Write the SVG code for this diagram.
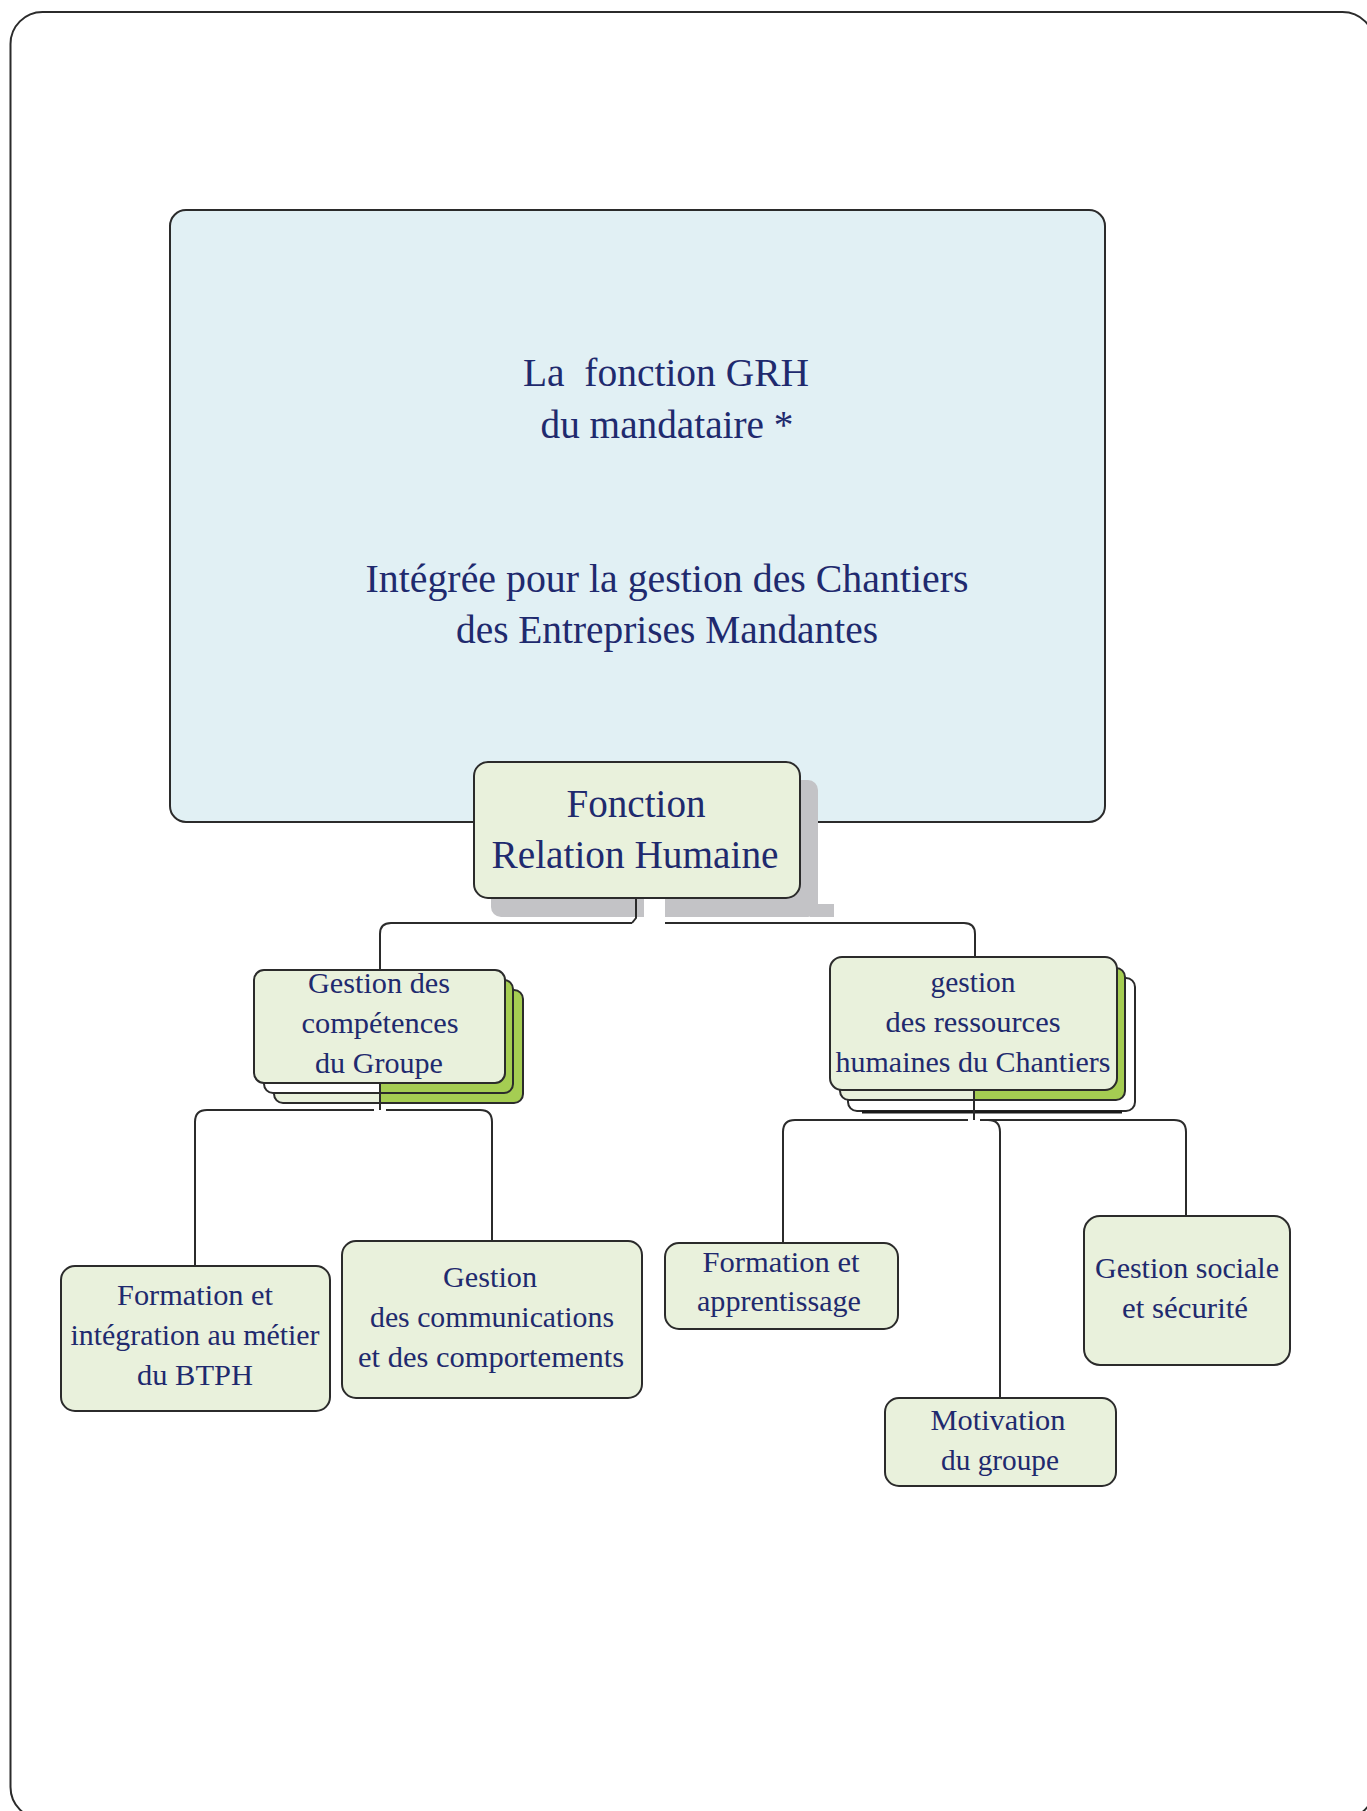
<svg xmlns="http://www.w3.org/2000/svg" width="1367" height="1811" viewBox="0 0 1367 1811">
<defs>
<style>
.frame{fill:#ffffff;stroke:#2b2b2b;stroke-width:2}
.main{fill:#e1f0f4;stroke:#2b2b2b;stroke-width:2}
.box{fill:#e9f1dc;stroke:#2b2b2b;stroke-width:2}
.t{font-family:"Liberation Serif","Times New Roman",serif;fill:#1f2a6e;text-anchor:middle}
.big{font-size:40px}
.sm{font-size:30px}
.con{fill:none;stroke:#2b2b2b;stroke-width:2}
</style>
<linearGradient id="gC2" gradientUnits="userSpaceOnUse" x1="0" y1="0" x2="1367" y2="0">
<stop offset="0.2780" stop-color="#ffffff"/><stop offset="0.2780" stop-color="#a5cd52"/>
</linearGradient>
<linearGradient id="gC3" gradientUnits="userSpaceOnUse" x1="0" y1="0" x2="1367" y2="0">
<stop offset="0.2780" stop-color="#e9f1dc"/><stop offset="0.2780" stop-color="#a5cd52"/>
</linearGradient>
<linearGradient id="gR2" gradientUnits="userSpaceOnUse" x1="0" y1="0" x2="1367" y2="0">
<stop offset="0.7125" stop-color="#e9f1dc"/><stop offset="0.7125" stop-color="#a5cd52"/>
</linearGradient>
</defs>

<rect class="frame" x="10.5" y="12" width="1364" height="1807" rx="32" ry="32"/>

<g id="node-grh">
<rect class="main" x="170" y="210" width="935" height="612" rx="16"/>
<text class="t big" x="666" y="386" textLength="286" lengthAdjust="spacingAndGlyphs" xml:space="preserve">La  fonction GRH</text>
<text class="t big" x="667" y="438" textLength="253" lengthAdjust="spacingAndGlyphs">du mandataire *</text>
<text class="t big" x="667" y="592" textLength="603" lengthAdjust="spacingAndGlyphs">Intégrée pour la gestion des Chantiers</text>
<text class="t big" x="667" y="643" textLength="422" lengthAdjust="spacingAndGlyphs">des Entreprises Mandantes</text>
</g>

<g id="node-relation">
<rect x="491" y="780" width="327" height="137" rx="10" fill="#c3c3c6"/>
<rect x="810" y="904" width="24" height="13" fill="#c3c3c6"/>
<rect x="644" y="899" width="21" height="20" fill="#ffffff"/>
<rect class="box" x="474" y="762" width="326" height="136" rx="14"/>
<text class="t big" x="636" y="817" textLength="139" lengthAdjust="spacingAndGlyphs">Fonction</text>
<text class="t big" x="635" y="868" textLength="287" lengthAdjust="spacingAndGlyphs">Relation Humaine</text>
</g>

<g id="node-competences">
<rect x="274" y="990" width="249" height="113" rx="9" fill="url(#gC3)" stroke="#2b2b2b" stroke-width="2"/>
<rect x="264" y="980" width="249" height="113" rx="9" fill="url(#gC2)" stroke="#2b2b2b" stroke-width="2"/>
<rect class="box" x="254" y="970" width="251" height="113" rx="10"/>
<text class="t sm" x="379" y="993" textLength="142" lengthAdjust="spacingAndGlyphs">Gestion des</text>
<text class="t sm" x="380" y="1033" textLength="157" lengthAdjust="spacingAndGlyphs">compétences</text>
<text class="t sm" x="379" y="1073" textLength="128" lengthAdjust="spacingAndGlyphs">du Groupe</text>
</g>

<g id="node-ressources">
<rect x="848" y="978" width="287" height="133" rx="9" fill="#ffffff" stroke="#2b2b2b" stroke-width="2"/>
<line x1="862" y1="1112" x2="1122" y2="1112" stroke="#1a1a1a" stroke-width="3"/>
<rect x="840" y="968" width="285" height="132" rx="9" fill="url(#gR2)" stroke="#2b2b2b" stroke-width="2"/>
<rect class="box" x="830" y="957" width="287" height="133" rx="12"/>
<text class="t sm" x="973" y="992" textLength="85" lengthAdjust="spacingAndGlyphs">gestion</text>
<text class="t sm" x="973" y="1032" textLength="175" lengthAdjust="spacingAndGlyphs">des ressources</text>
<text class="t sm" x="973" y="1072" textLength="275" lengthAdjust="spacingAndGlyphs">humaines du Chantiers</text>
</g>

<g id="node-formation-btph">
<rect class="box" x="61" y="1266" width="269" height="145" rx="14"/>
<text class="t sm" x="195" y="1305" textLength="156" lengthAdjust="spacingAndGlyphs">Formation et</text>
<text class="t sm" x="195" y="1345" textLength="249" lengthAdjust="spacingAndGlyphs">intégration au métier</text>
<text class="t sm" x="195" y="1385" textLength="116" lengthAdjust="spacingAndGlyphs">du BTPH</text>
</g>

<g id="node-communications">
<rect class="box" x="342" y="1241" width="300" height="157" rx="14"/>
<text class="t sm" x="490" y="1287" textLength="94" lengthAdjust="spacingAndGlyphs">Gestion</text>
<text class="t sm" x="492" y="1327" textLength="244" lengthAdjust="spacingAndGlyphs">des communications</text>
<text class="t sm" x="491" y="1367" textLength="266" lengthAdjust="spacingAndGlyphs">et des comportements</text>
</g>

<g id="node-apprentissage">
<rect class="box" x="665" y="1243" width="233" height="86" rx="14"/>
<text class="t sm" x="781" y="1272" textLength="157" lengthAdjust="spacingAndGlyphs">Formation et</text>
<text class="t sm" x="779" y="1311" textLength="164" lengthAdjust="spacingAndGlyphs">apprentissage</text>
</g>

<g id="node-sociale">
<rect class="box" x="1084" y="1216" width="206" height="149" rx="16"/>
<text class="t sm" x="1187" y="1278" textLength="184" lengthAdjust="spacingAndGlyphs">Gestion sociale</text>
<text class="t sm" x="1185" y="1318" textLength="126" lengthAdjust="spacingAndGlyphs">et sécurité</text>
</g>

<g id="node-motivation">
<rect class="box" x="885" y="1398" width="231" height="88" rx="14"/>
<text class="t sm" x="998" y="1430" textLength="135" lengthAdjust="spacingAndGlyphs">Motivation</text>
<text class="t sm" x="1000" y="1470" textLength="118" lengthAdjust="spacingAndGlyphs">du groupe</text>
</g>

<g id="connectors">
<path class="con" d="M636,898 V918 L632,923"/>
<path class="con" d="M632,923 H391 Q380,923 380,934 V970"/>
<path class="con" d="M665,923 H964 Q975,923 975,934 V957"/>
<path class="con" d="M380,1083 V1110"/>
<path class="con" d="M374,1110 H207 Q195,1110 195,1122 V1266"/>
<path class="con" d="M386,1110 H480 Q492,1110 492,1122 V1241"/>
<path class="con" d="M974,1090 V1120"/>
<path class="con" d="M968,1120 H795 Q783,1120 783,1132 V1243"/>
<path class="con" d="M980,1120 H1174 Q1186,1120 1186,1132 V1216"/>
<path class="con" d="M980,1120 H988 Q1000,1120 1000,1132 V1398"/>
</g>
</svg>
